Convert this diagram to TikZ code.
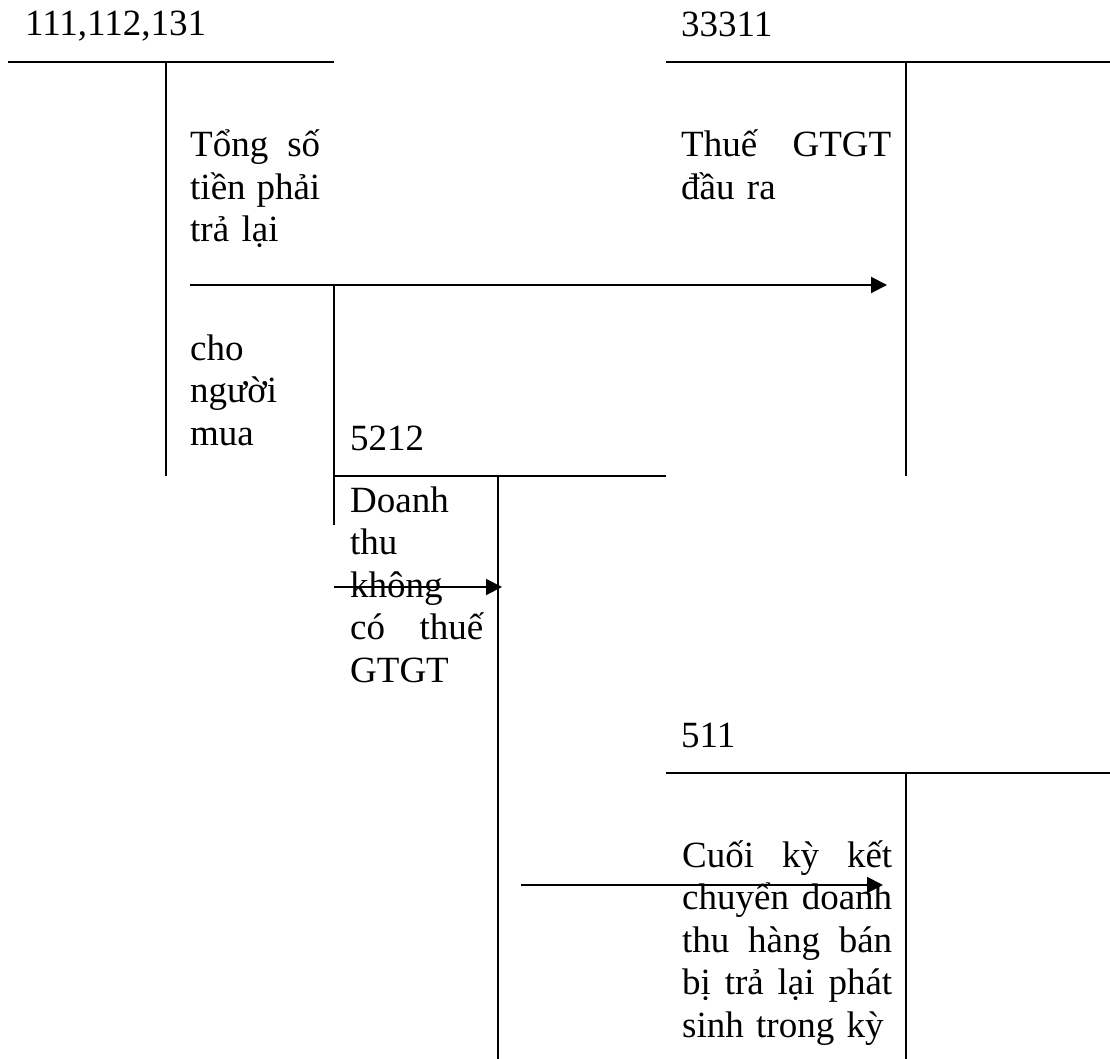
\documentclass[tikz,border=0pt]{standalone}
\usepackage{fontspec}
\setmainfont{Liberation Serif}
\usetikzlibrary{arrows.meta}
\newcommand\jline[2]{\leavevmode\hbox to #1pt{#2}}
\begin{document}
\begin{tikzpicture}[x=1pt,y=-1pt,
  acct/.style={line width=2pt},
  flow/.style={line width=2pt,-{Triangle[length=16pt,width=16pt]}},
  lbl/.style={anchor=base west,inner sep=0pt,font=\fontsize{37}{42.5}\selectfont},
  blk/.style={lbl,align=left,text width=#1pt}]
\useasboundingbox (0,0) rectangle (1110,1059);
% account titles
\node[lbl] (t111) at (25,36) {111,112,131};
\node[lbl] (t333) at (681,37) {33311};
\node[lbl] (t5212) at (350,450) {5212};
\node[lbl] (t511) at (681,747) {511};
% T-account lines
\draw[acct] (8,62) -- (334,62) (166,62) -- (166,476);
\draw[acct] (666,62) -- (1110,62) (906,62) -- (906,476);
\draw[acct] (334,285) -- (334,525);
\draw[acct] (334,476) -- (666,476) (498,476) -- (498,1059);
\draw[acct] (666,773) -- (1110,773) (906,773) -- (906,1059);
% text blocks
\node[blk=130] (b1) at (190,157) {\jline{130}{Tổng\hfill số}\\\jline{130}{tiền\hfill phải}\\trả lại};
\node[blk=130] (b2) at (190,360) {cho\\người\\mua};
\node[blk=210] (b3) at (681,157) {\jline{210}{Thuế\hfill GTGT}\\đầu ra};
\node[blk=133] (b4) at (350,512) {Doanh\\thu\\không\\\jline{133}{có\hfill thuế}\\GTGT};
\node[blk=210] (b5) at (682,867) {\jline{210}{Cuối\hfill kỳ\hfill kết}\\\jline{210}{chuyển\hfill doanh}\\\jline{210}{thu\hfill hàng\hfill bán}\\\jline{210}{bị\hfill trả\hfill lại\hfill phát}\\sinh trong kỳ};
% arrows
\coordinate (a1s) at (190,285);
\coordinate (a1e) at (887,285);
\coordinate (a2s) at (334,587);
\coordinate (a2e) at (502,587);
\coordinate (a3s) at (521,885);
\coordinate (a3e) at (883,885);
\draw[flow] (a1s) -- (a1e);
\draw[flow] (a2s) -- (a2e);
\draw[flow] (a3s) -- (a3e);
\end{tikzpicture}
\end{document}
